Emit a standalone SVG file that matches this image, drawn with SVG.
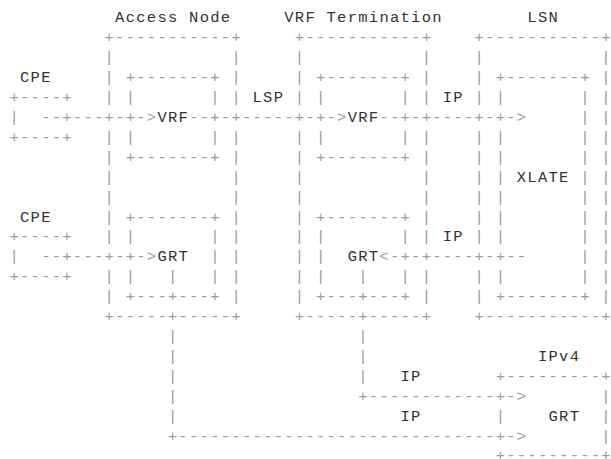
<svg xmlns="http://www.w3.org/2000/svg" width="611" height="459" viewBox="0 0 611 459" xml:space="preserve">
<style>
text{font-family:"Liberation Mono","DejaVu Sans Mono",monospace;font-size:15.5px;letter-spacing:1.27px;white-space:pre}
.ln{fill:#9c9c9c}
.lb{fill:#333333}
.e{letter-spacing:0}
</style>
<rect width="611" height="459" fill="#ffffff"/>
<g transform="translate(-0.9,0)">
<g id="access-node">
<text class="lb" x="116.03" y="21.90">Access Node</text>
<text class="ln" x="105.46" y="41.86">+-----------+</text>
<text class="ln"><tspan x="105.46" y="61.82">|</tspan><tspan x="105.46" y="81.78">|</tspan><tspan x="105.46" y="101.74">|</tspan><tspan x="105.46" y="141.66">|</tspan><tspan x="105.46" y="161.62">|</tspan><tspan x="105.46" y="181.58">|</tspan><tspan x="105.46" y="201.54">|</tspan><tspan x="105.46" y="221.50">|</tspan><tspan x="105.46" y="241.46">|</tspan><tspan x="105.46" y="281.38">|</tspan><tspan x="105.46" y="301.34">|</tspan></text>
<text class="ln"><tspan x="232.30" y="61.82">|</tspan><tspan x="232.30" y="81.78">|</tspan><tspan x="232.30" y="101.74">|</tspan><tspan x="232.30" y="141.66">|</tspan><tspan x="232.30" y="161.62">|</tspan><tspan x="232.30" y="181.58">|</tspan><tspan x="232.30" y="201.54">|</tspan><tspan x="232.30" y="221.50">|</tspan><tspan x="232.30" y="241.46">|</tspan><tspan x="232.30" y="261.42">|</tspan><tspan x="232.30" y="281.38">|</tspan><tspan x="232.30" y="301.34">|</tspan></text>
<text class="ln" x="105.46" y="321.30">+-----+-----+</text>
<g id="access-vrf">
<text class="ln"><tspan x="126.60" y="81.78">+-------+</tspan><tspan x="126.60" y="101.74">|</tspan><tspan x="211.16" y="101.74">|</tspan><tspan x="126.60" y="141.66">|</tspan><tspan x="211.16" y="141.66">|</tspan><tspan x="126.60" y="161.62">+-------+</tspan></text>
<text class="lb" x="158.31" y="121.70">VRF</text>
</g>
<g id="access-grt">
<text class="ln"><tspan x="126.60" y="221.50">+-------+</tspan><tspan x="126.60" y="241.46">|</tspan><tspan x="211.16" y="241.46">|</tspan><tspan x="211.16" y="261.42">|</tspan><tspan x="126.60" y="281.38">|</tspan><tspan x="211.16" y="281.38">|</tspan><tspan x="126.60" y="301.34">+---+---+</tspan></text>
<text class="lb" x="158.31" y="261.42">GRT</text>
</g>
</g>
<g id="vrf-termination">
<text class="lb" x="285.15" y="21.90">VRF Termination</text>
<text class="ln" x="295.72" y="41.86">+-----------+</text>
<text class="ln"><tspan x="295.72" y="61.82">|</tspan><tspan x="295.72" y="81.78">|</tspan><tspan x="295.72" y="101.74">|</tspan><tspan x="295.72" y="141.66">|</tspan><tspan x="295.72" y="161.62">|</tspan><tspan x="295.72" y="181.58">|</tspan><tspan x="295.72" y="201.54">|</tspan><tspan x="295.72" y="221.50">|</tspan><tspan x="295.72" y="241.46">|</tspan><tspan x="295.72" y="261.42">|</tspan><tspan x="295.72" y="281.38">|</tspan><tspan x="295.72" y="301.34">|</tspan></text>
<text class="ln"><tspan x="422.56" y="61.82">|</tspan><tspan x="422.56" y="81.78">|</tspan><tspan x="422.56" y="101.74">|</tspan><tspan x="422.56" y="141.66">|</tspan><tspan x="422.56" y="161.62">|</tspan><tspan x="422.56" y="181.58">|</tspan><tspan x="422.56" y="201.54">|</tspan><tspan x="422.56" y="221.50">|</tspan><tspan x="422.56" y="241.46">|</tspan><tspan x="422.56" y="281.38">|</tspan><tspan x="422.56" y="301.34">|</tspan></text>
<text class="ln" x="295.72" y="321.30">+-----+-----+</text>
<g id="vrft-vrf">
<text class="ln"><tspan x="316.86" y="81.78">+-------+</tspan><tspan x="316.86" y="101.74">|</tspan><tspan x="401.42" y="101.74">|</tspan><tspan x="316.86" y="141.66">|</tspan><tspan x="401.42" y="141.66">|</tspan><tspan x="316.86" y="161.62">+-------+</tspan></text>
<text class="lb" x="348.57" y="121.70">VRF</text>
</g>
<g id="vrft-grt">
<text class="ln"><tspan x="316.86" y="221.50">+-------+</tspan><tspan x="316.86" y="241.46">|</tspan><tspan x="401.42" y="241.46">|</tspan><tspan x="316.86" y="261.42">|</tspan><tspan x="316.86" y="281.38">|</tspan><tspan x="401.42" y="281.38">|</tspan><tspan x="316.86" y="301.34">+---+---+</tspan></text>
<text class="lb" x="348.57" y="261.42">GRT</text>
</g>
</g>
<g id="lsn">
<text class="lb" x="528.26" y="21.90">LSN</text>
<text class="ln" x="475.41" y="41.86">+-----------<tspan class="e">+</tspan></text>
<text class="ln"><tspan x="475.41" y="61.82">|</tspan><tspan x="475.41" y="81.78">|</tspan><tspan x="475.41" y="101.74">|</tspan><tspan x="475.41" y="141.66">|</tspan><tspan x="475.41" y="161.62">|</tspan><tspan x="475.41" y="181.58">|</tspan><tspan x="475.41" y="201.54">|</tspan><tspan x="475.41" y="221.50">|</tspan><tspan x="475.41" y="241.46">|</tspan><tspan x="475.41" y="281.38">|</tspan><tspan x="475.41" y="301.34">|</tspan></text>
<text class="ln e"><tspan x="602.25" y="61.82">|</tspan><tspan x="602.25" y="81.78">|</tspan><tspan x="602.25" y="101.74">|</tspan><tspan x="602.25" y="121.70">|</tspan><tspan x="602.25" y="141.66">|</tspan><tspan x="602.25" y="161.62">|</tspan><tspan x="602.25" y="181.58">|</tspan><tspan x="602.25" y="201.54">|</tspan><tspan x="602.25" y="221.50">|</tspan><tspan x="602.25" y="241.46">|</tspan><tspan x="602.25" y="261.42">|</tspan><tspan x="602.25" y="281.38">|</tspan><tspan x="602.25" y="301.34">|</tspan></text>
<text class="ln" x="475.41" y="321.30">+-----------<tspan class="e">+</tspan></text>
<g id="lsn-xlate">
<text class="ln"><tspan x="496.55" y="81.78">+-------+</tspan><tspan x="496.55" y="101.74">|</tspan><tspan x="496.55" y="141.66">|</tspan><tspan x="496.55" y="161.62">|</tspan><tspan x="496.55" y="181.58">|</tspan><tspan x="496.55" y="201.54">|</tspan><tspan x="496.55" y="221.50">|</tspan><tspan x="496.55" y="241.46">|</tspan><tspan x="496.55" y="281.38">|</tspan><tspan x="496.55" y="301.34">+-------+</tspan></text>
<text class="ln"><tspan x="581.11" y="101.74">|</tspan><tspan x="581.11" y="121.70">|</tspan><tspan x="581.11" y="141.66">|</tspan><tspan x="581.11" y="161.62">|</tspan><tspan x="581.11" y="181.58">|</tspan><tspan x="581.11" y="201.54">|</tspan><tspan x="581.11" y="221.50">|</tspan><tspan x="581.11" y="241.46">|</tspan><tspan x="581.11" y="261.42">|</tspan><tspan x="581.11" y="281.38">|</tspan></text>
<text class="lb" x="517.69" y="181.58">XLATE</text>
</g>
</g>
<g id="cpe-1">
<text class="lb" x="20.90" y="81.78">CPE</text>
<text class="ln"><tspan x="10.33" y="101.74">+----+</tspan><tspan x="10.33" y="121.70">|</tspan><tspan x="10.33" y="141.66">+----+</tspan></text>
</g>
<g id="cpe-2">
<text class="lb" x="20.90" y="221.50">CPE</text>
<text class="ln"><tspan x="10.33" y="241.46">+----+</tspan><tspan x="10.33" y="261.42">|</tspan><tspan x="10.33" y="281.38">+----+</tspan></text>
</g>
<g id="ipv4-grt">
<text class="lb" x="538.83" y="361.22">IPv4</text>
<text class="ln" x="496.55" y="381.18">+---------<tspan class="e">+</tspan></text>
<text class="ln" x="496.55" y="421.10">|</text>
<text class="ln e"><tspan x="602.25" y="401.14">|</tspan><tspan x="602.25" y="421.10">|</tspan><tspan x="602.25" y="441.06">|</tspan></text>
<text class="ln" x="496.55" y="459.5">+---------<tspan class="e">+</tspan></text>
<text class="lb" x="549.40" y="421.10">GRT</text>
</g>
<g id="connectors">
<text class="ln" x="42.04" y="121.70">--+---+-+-&gt;</text>
<text class="ln" x="190.02" y="121.70">--+-+-----+-+-&gt;</text>
<text class="lb" x="253.44" y="101.74">LSP</text>
<text class="ln" x="380.28" y="121.70">--+-+----+-+-&gt;</text>
<text class="lb" x="443.70" y="101.74">IP</text>
<text class="ln" x="42.04" y="261.42">--+---+-+-&gt;</text>
<text class="ln" x="380.28" y="261.42">&lt;-+-+----+-+--</text>
<text class="lb" x="443.70" y="241.46">IP</text>
<text class="ln"><tspan x="359.14" y="281.38">|</tspan><tspan x="359.14" y="341.26">|</tspan><tspan x="359.14" y="361.22">|</tspan><tspan x="359.14" y="381.18">|</tspan><tspan x="359.14" y="401.14">+------------+-&gt;</tspan></text>
<text class="lb" x="401.42" y="381.18">IP</text>
<text class="ln"><tspan x="168.88" y="281.38">|</tspan><tspan x="168.88" y="341.26">|</tspan><tspan x="168.88" y="361.22">|</tspan><tspan x="168.88" y="381.18">|</tspan><tspan x="168.88" y="401.14">|</tspan><tspan x="168.88" y="421.10">|</tspan><tspan x="168.88" y="441.06">+------------------------------+-&gt;</tspan></text>
<text class="lb" x="401.42" y="421.10">IP</text>
</g>
</g>
</svg>
